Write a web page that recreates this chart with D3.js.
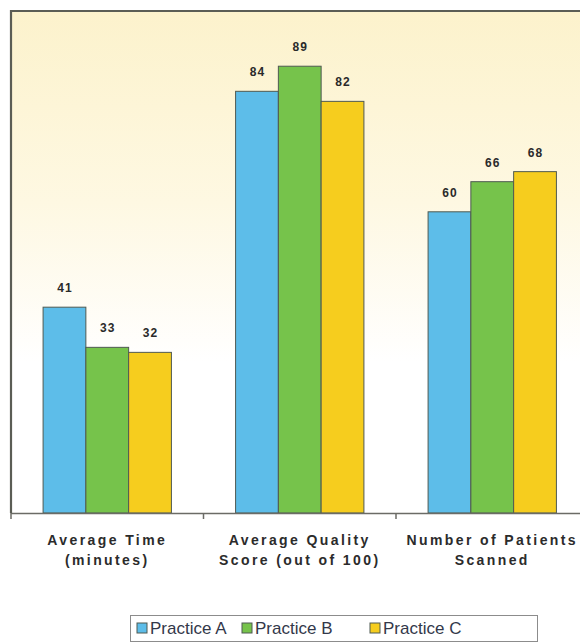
<!DOCTYPE html>
<html>
<head>
<meta charset="utf-8">
<script src="https://cdn.jsdelivr.net/npm/d3@7/dist/d3.min.js"></script>
<style>
  html, body { margin: 0; padding: 0; background: #fff; }
  svg { display: block; }
</style>
</head>
<body>
<svg id="chart" width="580" height="643"></svg>
<script>
// Scan comparison across three practices
const categories = [
  ["Average Time", "(minutes)"],
  ["Average Quality", "Score (out of 100)"],
  ["Number of Patients", "Scanned"]
];
const seriesNames = ["Practice A", "Practice B", "Practice C"];
const practiceA = [41, 84, 60];
const practiceB = [33, 89, 66];
const practiceC = [32, 82, 68];
const seriesColors = ["#5dbde9", "#76c34b", "#f6cd1e"];
const yDomain = [0, 100];

const seriesValues = [practiceA, practiceB, practiceC];
const catKeys = categories.map(c => c.join(" "));

const svg = d3.select("#chart");
const plot = { left: 11, top: 11, right: 588.5, bottom: 513 };

// Plot background: cream fading to white toward the baseline
const defs = svg.append("defs");
const grad = defs.append("linearGradient")
  .attr("id", "bg").attr("x1", 0).attr("y1", 0).attr("x2", 0).attr("y2", 1);
grad.append("stop").attr("offset", "0%").attr("stop-color", "#fcf2cc");
grad.append("stop").attr("offset", "38%").attr("stop-color", "#fef8e2");
grad.append("stop").attr("offset", "70%").attr("stop-color", "#ffffff");
grad.append("stop").attr("offset", "100%").attr("stop-color", "#ffffff");

svg.append("rect")
  .attr("x", plot.left).attr("y", plot.top)
  .attr("width", plot.right - plot.left).attr("height", plot.bottom - plot.top)
  .attr("fill", "url(#bg)");

const x0 = d3.scaleBand()
  .domain(catKeys)
  .range([plot.left, plot.right])
  .paddingInner(1 / 3)
  .paddingOuter(1 / 6);
const x1 = d3.scaleBand()
  .domain(seriesNames)
  .range([0, x0.bandwidth()]);
const y = d3.scaleLinear().domain(yDomain).range([plot.bottom, plot.top]);

// Bars
const groups = svg.append("g").selectAll("g")
  .data(catKeys)
  .join("g")
  .attr("transform", d => `translate(${x0(d)},0)`);

groups.selectAll("rect")
  .data((d, ci) => seriesNames.map((s, si) => ({ s, si, v: seriesValues[si][ci] })))
  .join("rect")
  .attr("x", d => x1(d.s))
  .attr("y", d => y(d.v))
  .attr("width", x1.bandwidth())
  .attr("height", d => y(0) - y(d.v))
  .attr("fill", d => seriesColors[d.si])
  .attr("stroke", "#4f5a52")
  .attr("stroke-width", 1);

// Value labels
groups.selectAll("text")
  .data((d, ci) => seriesNames.map((s, si) => ({ s, si, v: seriesValues[si][ci] })))
  .join("text")
  .attr("x", d => x1(d.s) + x1.bandwidth() / 2 + 0.5)
  .attr("y", d => y(d.v) - 15)
  .attr("text-anchor", "middle")
  .attr("font-family", "Arial, 'Liberation Sans', sans-serif")
  .attr("font-size", 12)
  .attr("font-weight", "bold")
  .attr("letter-spacing", 1)
  .attr("fill", "#2a2a2a")
  .text(d => d.v);

// Category axis along the baseline, ticks between categories
const step = x0.step();
const tickXs = catKeys.map(k => x0(k) - step * x0.paddingInner() / 2);
const axisG = svg.append("g");
axisG.append("line")
  .attr("x1", plot.left).attr("x2", 580)
  .attr("y1", plot.bottom + 0.5).attr("y2", plot.bottom + 0.5)
  .attr("stroke", "#6b6b66").attr("stroke-width", 1.5);
axisG.selectAll("line.tick")
  .data(tickXs)
  .join("line")
  .attr("class", "tick")
  .attr("x1", d => d).attr("x2", d => d)
  .attr("y1", plot.bottom).attr("y2", plot.bottom + 6)
  .attr("stroke", "#6b6b66").attr("stroke-width", 1.5);

const catLabels = axisG.selectAll("text.cat")
  .data(categories)
  .join("text")
  .attr("class", "cat")
  .attr("x", (d, i) => x0(catKeys[i]) + x0.bandwidth() / 2)
  .attr("y", 545)
  .attr("text-anchor", "middle")
  .attr("font-family", "Arial, 'Liberation Sans', sans-serif")
  .attr("font-size", 14)
  .attr("font-weight", "bold")
  .attr("letter-spacing", 2.4)
  .attr("fill", "#2b2b2b");
catLabels.selectAll("tspan")
  .data(d => d)
  .join("tspan")
  .attr("x", function () { return d3.select(this.parentNode).attr("x"); })
  .attr("dy", (d, i) => i === 0 ? 0 : 20)
  .text(d => d);

// Frame: top and left edges of the plot area
svg.append("path")
  .attr("d", `M${plot.left},${plot.bottom} V${plot.top} H580`)
  .attr("fill", "none")
  .attr("stroke", "#5b5d55")
  .attr("stroke-width", 2.2);

// Legend
const legend = svg.append("g");
legend.append("rect")
  .attr("x", 130.5).attr("y", 615.5)
  .attr("width", 407).attr("height", 26)
  .attr("fill", "#fff")
  .attr("stroke", "#8c8c8c").attr("stroke-width", 1);
const legendX = [137, 242, 370];
const items = legend.selectAll("g.item")
  .data(seriesNames)
  .join("g")
  .attr("class", "item")
  .attr("transform", (d, i) => `translate(${legendX[i]},623)`);
items.append("rect")
  .attr("width", 10).attr("height", 10)
  .attr("fill", (d, i) => seriesColors[i])
  .attr("stroke", "#4f5a52").attr("stroke-width", 1);
items.append("text")
  .attr("x", 13).attr("y", 11)
  .attr("font-family", "Arial, 'Liberation Sans', sans-serif")
  .attr("font-size", 17)
  .attr("fill", "#33384a")
  .text(d => d);
</script>
</body>
</html>
